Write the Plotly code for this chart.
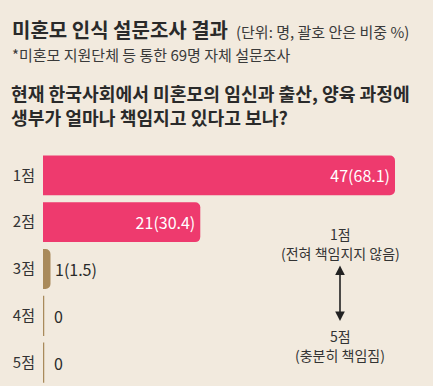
import plotly.graph_objects as go

# ---- data ----
categories = ["1점", "2점", "3점", "4점", "5점"]
counts = [47, 21, 1, 0, 0]
shares = [68.1, 30.4, 1.5, 0, 0]

title = "미혼모 인식 설문조사 결과"
unit_note = "(단위: 명, 괄호 안은 비중 %)"
source_note = "*미혼모 지원단체 등 통한 69명 자체 설문조사"
question_lines = ["현재 한국사회에서 미혼모의 임신과 출산, 양육 과정에",
                  "생부가 얼마나 책임지고 있다고 보나?"]
scale_top = ["1점", "(전혀 책임지지 않음)"]
scale_bottom = ["5점", "(충분히 책임짐)"]

# ---- style ----
W_FIG, H_FIG = 433, 386
L, R, T, B = 43, 38, 152, 0
PW, PH = W_FIG - L - R, H_FIG - T - B
BG = "#f2eade"
PINK = "#ee3a6e"
TAN = "#a98a5b"
DARK = "#2a2a2a"
FONT = "Noto Sans CJK KR"

def px(x):
    return (x - L) / PW

def py(y):
    return 1 - (y - T) / PH

def text_ann(x, y, text, size, color=DARK, anchor="left"):
    return dict(x=px(x), y=py(y), xref="paper", yref="paper", text=text,
                showarrow=False, xanchor=anchor, yanchor="middle",
                font=dict(family=FONT, size=size, color=color))

bar_colors = [PINK if s >= 10 else TAN for s in shares]
labels = [f"{c}({s})" if c > 0 else f"{c}" for c, s in zip(counts, shares)]
positions = ["inside" if s >= 10 else "outside" for s in shares]

fig = go.Figure()
fig.add_trace(go.Bar(
    x=counts, y=categories, orientation="h",
    marker=dict(color=bar_colors, line=dict(width=0)),
    text=[l if p == "inside" else "" for l, p in zip(labels, positions)],
    textposition="inside", insidetextanchor="end",
    textfont=dict(family=FONT, size=16, color="white"),
    cliponaxis=False, hoverinfo="skip",
))

annotations = []
shapes = []
for idx, (cat, c, l, p) in enumerate(zip(categories, counts, labels, positions)):
    if p == "outside":
        annotations.append(dict(x=c, y=cat, xref="x", yref="y", text=l,
                                showarrow=False, xanchor="left", yanchor="middle",
                                xshift=3 if c > 0 else 9,
                                font=dict(family=FONT, size=16, color=DARK)))
    if c == 0:
        shapes.append(dict(type="line", xref="x", yref="y", x0=0, x1=0,
                           y0=idx - 0.43, y1=idx + 0.43,
                           line=dict(color=TAN, width=2.5)))

# headers
annotations += [
    text_ann(10, 29, f"<b>{title}</b>", 20),
    text_ann(234, 31, unit_note, 15, "#3a3a3a"),
    text_ann(10, 55, source_note, 15, "#3a3a3a"),
    text_ann(9, 93, f"<b>{question_lines[0]}</b>", 18.2),
    text_ann(9, 117, f"<b>{question_lines[1]}</b>", 18.2),
]
# scale legend
annotations += [
    text_ann(340, 234, scale_top[0], 14, "#333", "center"),
    text_ann(340, 253, scale_top[1], 14, "#333", "center"),
    text_ann(340, 336, scale_bottom[0], 14, "#333", "center"),
    text_ann(340, 355, scale_bottom[1], 14, "#333", "center"),
    dict(x=px(340), y=py(321), ax=0, ay=-(321 - 264), xref="paper", yref="paper",
         axref="pixel", ayref="pixel", text="", showarrow=True,
         arrowhead=2, arrowside="end+start", arrowsize=1.2, arrowwidth=1.6,
         arrowcolor="#222", startarrowhead=2, startarrowsize=1.2),
]

fig.update_layout(
    width=W_FIG, height=H_FIG,
    margin=dict(l=L, r=R, t=T, b=B, pad=0),
    paper_bgcolor=BG, plot_bgcolor=BG,
    bargap=0.15, barcornerradius=5,
    showlegend=False,
    xaxis=dict(range=[0, 47], visible=False, fixedrange=True),
    yaxis=dict(autorange="reversed", showgrid=False, zeroline=False,
               showline=False, ticks="", ticklabelstandoff=7,
               tickfont=dict(family=FONT, size=15, color="#333")),
    annotations=annotations, shapes=shapes,
    font=dict(family=FONT),
)

fig.write_html("out.html")
